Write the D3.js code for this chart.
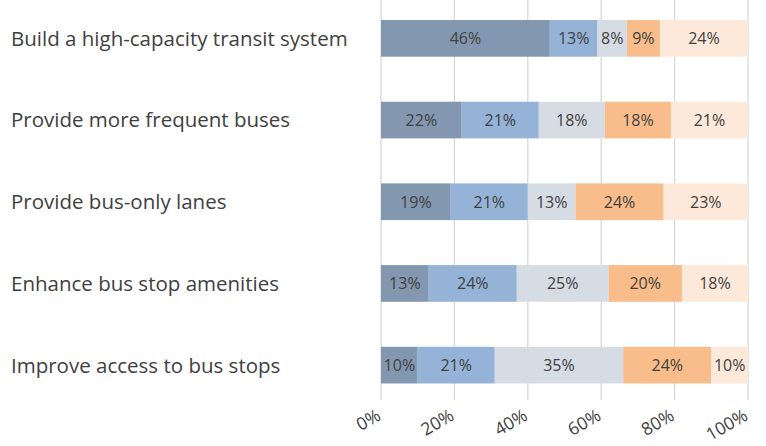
<!DOCTYPE html>
<html>
<head>
<meta charset="utf-8">
<script src="https://cdn.jsdelivr.net/npm/d3@7"></script>
<style>
  body { margin: 0; background: #fff; }
  text { font-family: "Open Sans", "Noto Sans", sans-serif; fill: #404040; }
</style>
</head>
<body>
<div id="chart"></div>
<script>
const categories = [
  "Build a high-capacity transit system",
  "Provide more frequent buses",
  "Provide bus-only lanes",
  "Enhance bus stop amenities",
  "Improve access to bus stops"
];
const series1 = [46, 22, 19, 13, 10];
const series2 = [13, 21, 21, 24, 21];
const series3 = [8, 18, 13, 25, 35];
const series4 = [9, 18, 24, 20, 24];
const series5 = [24, 21, 23, 18, 10];
const ticks = [0, 20, 40, 60, 80, 100];
const colors = ["#8497B0", "#95B3D7", "#D6DCE4", "#F8BD8A", "#FDE9DA"];

const width = 766, height = 446;
const margin = { top: 0, right: 18, bottom: 48, left: 381 };

const svg = d3.select("#chart").append("svg")
  .attr("width", width)
  .attr("height", height);

const x = d3.scaleLinear().domain([0, 100]).range([margin.left, margin.left + 367]);
const y = d3.scaleBand().domain(categories).range([0, 403.5]).paddingInner(0.551).paddingOuter(0.245);

// gridlines
svg.append("g")
  .selectAll("line")
  .data(ticks)
  .join("line")
    .attr("x1", d => x(d)).attr("x2", d => x(d))
    .attr("y1", 0).attr("y2", 400)
    .attr("stroke", "#d9d9d9")
    .attr("stroke-width", 1.3);

const allSeries = [series1, series2, series3, series4, series5];
const rows = categories.map((c, i) => {
  let start = 0;
  return allSeries.map((s, k) => {
    const seg = { cat: c, k: k, v: s[i], x0: start, x1: start + s[i] };
    start += s[i];
    return seg;
  });
});

const bars = svg.append("g")
  .selectAll("g")
  .data(rows)
  .join("g");

bars.selectAll("rect")
  .data(d => d)
  .join("rect")
    .attr("x", d => x(d.x0))
    .attr("width", d => x(d.x1) - x(d.x0))
    .attr("y", d => y(d.cat))
    .attr("height", y.bandwidth())
    .attr("fill", d => colors[d.k]);

bars.selectAll("text")
  .data(d => d)
  .join("text")
    .attr("x", d => (x(d.x0) + x(d.x1)) / 2)
    .attr("y", d => y(d.cat) + y.bandwidth() / 2)
    .attr("dy", "0.36em")
    .attr("text-anchor", "middle")
    .style("font-size", "16px")
    .text(d => d.v + "%");

// category labels
svg.append("g")
  .selectAll("text")
  .data(categories)
  .join("text")
    .attr("x", 11)
    .attr("y", d => y(d) + y.bandwidth() / 2)
    .attr("dy", "0.36em")
    .style("font-size", "20.5px")
    .text(d => d);

// tick labels
svg.append("g")
  .selectAll("text")
  .data(ticks)
  .join("text")
    .attr("text-anchor", "end")
    .attr("transform", d => `translate(${x(d) + 1},${419}) rotate(-30)`)
    .style("font-size", "17.5px")
    .text(d => d + "%");
</script>
</body>
</html>
